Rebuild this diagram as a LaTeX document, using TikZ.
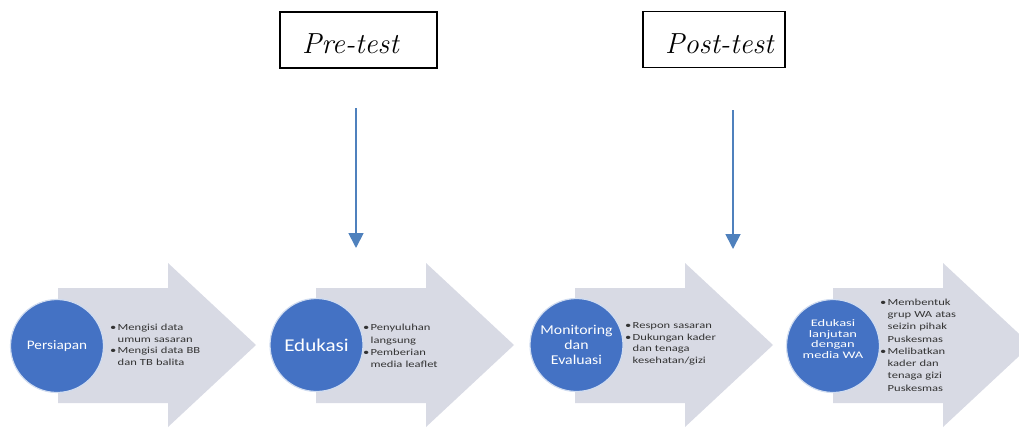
\documentclass[tikz,border=0pt]{standalone}
\usepackage{fontspec}
\setsansfont{Carlito}
\newfontfamily\circfont{Carlito}[FakeStretch=1.17]
\newfontfamily\bulfont{Carlito}[FakeStretch=1.35]
\newfontfamily\widefont{Carlito}[FakeStretch=1.45]
\usetikzlibrary{arrows.meta}
\definecolor{circblue}{HTML}{4472C4}
\definecolor{arrgrey}{HTML}{D8DAE4}
\definecolor{linkblue}{HTML}{4F81BD}
\newcommand{\bl}{\makebox[7.5pt][l]{\textbullet}}
\newcommand{\ind}{\hspace*{7.5pt}}
\tikzset{
  testbox/.style={draw=black,line width=1.5pt,minimum width=157pt,minimum height=56pt,inner sep=0pt},
  testlabel/.style={font=\fontsize{29}{33}\selectfont\itshape,anchor=base west,inner sep=0pt},
  stepcirc/.style={circle,fill=circblue,draw=white!75!circblue,line width=1.2pt,minimum size=93pt,inner sep=0pt,text=white,font=\circfont\fontsize{13}{15}\selectfont,align=center},
  bullets/.style={anchor=west,text width=120pt,font=\bulfont\fontsize{9.3}{11.5}\selectfont,inner sep=0pt,align=left,text=black!80},
  chev/.style={fill=arrgrey},
  link/.style={draw=linkblue,line width=1.8pt,-{Triangle[width=15pt,length=15pt]}}
}
\newcommand{\chevron}[1]{%
  \fill[chev] (#1,288) -- (#1+110,288) -- (#1+110,263) -- (#1+198,345) -- (#1+110,427) -- (#1+110,403) -- (#1,403) -- cycle;}
\begin{document}
\begin{tikzpicture}[x=1pt,y=-1pt]
\useasboundingbox (0,0) rectangle (1019,428);
% boxes
\node[testbox] (prebox) at (358.5,40) {};
\node[testlabel] (pretxt) at (302,53) {Pre-test};
\node[testbox,minimum width=142pt] (postbox) at (714,39.5) {};
\node[testlabel] (posttxt) at (665,53) {Post-test};
% connectors
\coordinate (p1) at (356,108);
\coordinate (p2) at (356,248);
\coordinate (q1) at (733,110);
\coordinate (q2) at (733,249);
\draw[link] (p1) -- (p2);
\draw[link] (q1) -- (q2);
% chevrons
\chevron{58}
\chevron{316}
\chevron{575}
\chevron{833}
% circles
\node[stepcirc] (s1) at (57,346) {Persiapan};
\node[stepcirc,font=\circfont\fontsize{18}{20}\selectfont] (s2) at (316.5,345) {Edukasi};
\node[stepcirc,font=\circfont\fontsize{13.5}{15}\selectfont] (s3) at (576.5,345) {Monitoring\\dan\\Evaluasi};
\node[stepcirc,font=\widefont\fontsize{10}{10.5}\selectfont] (s4) at (833,346) {};
\node[font=\widefont\fontsize{10}{10.5}\selectfont,text=white,align=center,inner sep=0pt] (s4t) at (833,339) {Edukasi\\lanjutan\\dengan\\media WA};
% bullet texts
\node[bullets] (b1) at (110,345) {\bl Mengisi data\\\ind umum sasaran\\\bl Mengisi data BB\\\ind dan TB balita};
\node[bullets,font=\bulfont\fontsize{9.3}{12.3}\selectfont] (b2) at (363,346) {\bl Penyuluhan\\\ind langsung\\\bl Pemberian\\\ind media leaflet};
\node[bullets] (b3) at (625,344) {\bl Respon sasaran\\\bl Dukungan kader\\\ind dan tenaga\\\ind kesehatan/gizi};
\node[bullets,font=\bulfont\fontsize{9.3}{12.3}\selectfont] (b4) at (880,345) {\bl Membentuk\\\ind grup WA atas\\\ind seizin pihak\\\ind Puskesmas\\\bl Melibatkan\\\ind kader dan\\\ind tenaga gizi\\\ind Puskesmas};
\end{tikzpicture}
\end{document}
